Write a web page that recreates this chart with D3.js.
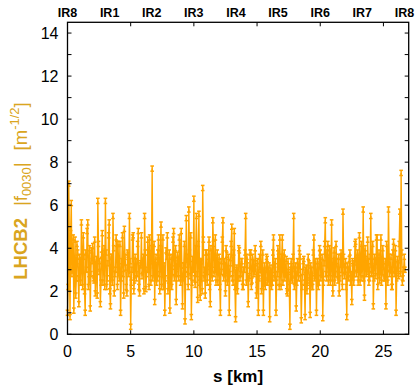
<!DOCTYPE html>
<html>
<head>
<meta charset="utf-8">
<script src="https://cdn.jsdelivr.net/npm/d3@7"></script>
<style>
  body { margin: 0; background: #fff; }
  svg { display: block; font-family: "Liberation Sans", Arial, sans-serif; }
  .tick-label { font-size: 16px; fill: #000; }
</style>
</head>
<body>
<div id="chart"></div>
<script>
// BPM positions are spaced evenly along the ring (km)
const sStep = 0.05;
// |f0030| amplitude at each BPM (one row per km)
const f0030 = [
  1.0, 2.2, 7.0, 3.8, 0.8, 4.7, 6.1, 2.8, 3.2, 4.5, 1.1, 3.0, 4.4, 1.8, 2.6, 4.2, 3.8, 2.6, 1.4, 3.6,
  3.4, 2.4, 5.2, 3.2, 2.2, 4.6, 3.6, 2.0, 1.0, 3.8, 3.0, 4.8, 5.2, 2.2, 2.8, 4.0, 1.2, 2.8, 3.9, 3.4,
  4.1, 2.6, 2.5, 4.4, 1.9, 3.0, 3.5, 1.8, 6.2, 4.2, 2.9, 3.4, 1.4, 2.4, 3.7, 4.7, 2.4, 3.2, 4.0, 2.2,
  6.2, 3.8, 2.2, 2.6, 3.3, 4.6, 5.2, 2.0, 1.3, 3.6, 3.6, 2.4, 5.5, 4.0, 1.9, 2.8, 3.0, 4.5, 4.2, 2.2,
  4.2, 3.0, 2.6, 4.2, 1.0, 2.6, 3.4, 4.6, 2.8, 1.8, 4.9, 3.6, 3.1, 2.2, 1.9, 3.8, 3.7, 2.8, 5.5, 3.4,
  0.35, 2.4, 3.0, 4.5, 4.6, 2.0, 2.5, 3.6, 3.4, 2.6, 2.8, 4.2, 4.8, 2.2, 1.9, 3.2, 3.3, 4.6, 2.7, 3.0,
  3.6, 2.0, 5.5, 3.8, 2.1, 2.8, 3.0, 4.4, 3.8, 2.2, 4.5, 3.4, 2.4, 4.0, 7.7, 2.6, 3.2, 4.2, 1.5, 3.2,
  3.6, 2.4, 2.6, 3.8, 4.5, 2.8, 2.0, 4.0, 5.1, 2.2, 3.0, 4.5, 2.2, 3.2, 1.0, 2.6, 3.9, 3.6, 4.6, 2.0,
  2.5, 3.8, 1.1, 3.0, 3.6, 2.2, 2.9, 4.4, 4.8, 2.6, 3.3, 4.0, 1.5, 2.8, 3.7, 3.4, 2.6, 4.5, 4.0, 2.4,
  4.8, 3.2, 1.3, 2.6, 3.2, 4.2, 0.6, 2.8, 5.4, 3.6, 3.0, 2.2, 5.8, 3.8, 2.7, 4.6, 0.8, 2.4, 3.5, 3.0,
  6.3, 2.6, 2.3, 4.0, 5.5, 2.8, 1.6, 4.2, 5.6, 2.4, 1.7, 3.4, 3.4, 2.0, 6.8, 4.4, 2.6, 3.0, 1.8, 3.8,
  3.8, 2.4, 2.9, 3.6, 4.4, 2.2, 1.4, 4.0, 3.1, 2.6, 5.3, 4.2, 2.8, 3.0, 4.5, 2.4, 3.2, 3.8, 2.4, 3.2,
  3.6, 2.2, 1.0, 3.4, 2.9, 4.4, 5.3, 2.6, 3.4, 3.2, 1.9, 4.0, 3.7, 2.4, 2.6, 3.6, 1.0, 2.8, 3.3, 4.2,
  5.0, 2.6, 2.4, 3.8, 4.8, 2.2, 0.7, 3.0, 3.1, 2.0, 2.6, 4.0, 3.9, 2.6, 2.8, 3.4, 3.4, 2.2, 2.2, 3.0,
  3.0, 3.8, 5.5, 2.4, 3.6, 3.2, 1.4, 2.6, 2.7, 3.8, 3.8, 2.2, 2.5, 3.6, 3.3, 2.8, 2.9, 4.0, 3.3, 1.8,
  2.3, 3.4, 1.0, 2.6, 3.6, 3.0, 4.2, 2.0, 2.7, 3.8, 1.0, 2.8, 3.2, 2.2, 2.5, 3.6, 3.5, 2.4, 2.8, 3.2,
  0.7, 2.8, 3.1, 2.2, 2.4, 3.8, 4.5, 2.6, 3.0, 3.4, 1.0, 2.4, 2.8, 4.0, 3.6, 2.2, 4.5, 3.0, 2.2, 3.6,
  4.5, 2.4, 3.0, 3.8, 2.6, 2.8, 3.5, 2.0, 1.9, 3.4, 2.9, 2.2, 0.35, 3.0, 3.4, 2.6, 2.5, 3.6, 5.5, 2.2,
  2.8, 3.2, 1.2, 2.4, 3.4, 3.0, 2.6, 4.0, 3.6, 2.6, 0.65, 2.2, 2.9, 3.4, 3.5, 2.4, 0.8, 3.0, 3.1, 2.0,
  2.5, 3.6, 3.3, 2.4, 0.9, 3.2, 3.0, 2.2, 2.2, 3.8, 4.5, 2.6, 2.7, 3.4, 1.0, 2.8, 3.4, 2.2, 2.4, 4.0,
  3.8, 2.6, 2.9, 3.6, 0.75, 2.4, 3.3, 4.2, 5.3, 2.8, 2.6, 3.8, 4.2, 2.4, 3.0, 4.0, 2.4, 3.2, 5.2, 2.6,
  1.9, 3.4, 3.9, 2.4, 2.8, 4.2, 3.4, 2.8, 2.5, 3.6, 1.9, 2.6, 3.6, 3.8, 3.0, 2.2, 5.7, 3.6, 2.7, 3.0,
  3.4, 2.2, 0.8, 3.2, 3.0, 2.6, 3.5, 3.8, 2.4, 2.8, 1.5, 3.4, 3.3, 2.4, 2.8, 4.2, 4.3, 2.8, 3.1, 3.8,
  2.4, 3.0, 4.6, 2.4, 3.2, 4.2, 2.6, 3.2, 5.8, 2.6, 1.7, 4.0, 3.5, 2.8, 2.9, 4.4, 3.4, 2.4, 2.6, 3.6,
  5.5, 2.8, 3.0, 4.2, 1.3, 2.6, 3.6, 3.4, 2.7, 4.5, 4.5, 2.2, 3.2, 3.8, 2.5, 3.0, 4.5, 2.4, 2.9, 4.0,
  3.4, 2.6, 2.6, 3.4, 1.3, 4.2, 3.1, 2.4, 5.8, 3.6, 2.8, 3.0, 3.6, 2.2, 2.2, 3.8, 4.3, 2.8, 3.0, 4.0,
  1.0, 2.6, 3.5, 3.2, 2.7, 4.2, 5.7, 2.8, 7.5, 3.8, 2.4, 2.6, 3.0, 3.6, 3.0
];
const errBar = 0.12;

const irLabels = ['IR8', 'IR1', 'IR2', 'IR3', 'IR4', 'IR5', 'IR6', 'IR7', 'IR8'];
const ringLength = 26.659;
const xTicks = [0, 5, 10, 15, 20, 25];
const yTicks = [0, 2, 4, 6, 8, 10, 12, 14];
const yMinor = d3.range(0, 15, 1);

const width = 416;
const height = 386;
const margin = { top: 22.3, right: 7.3, bottom: 51.7, left: 67.5 };
const lineColor = '#ffa500';
const labelColor = '#daa520';

const points = f0030.map((v, i) => ({ s: i * sStep, v }));

const svg = d3.select('#chart')
  .append('svg')
  .attr('width', width)
  .attr('height', height);

const x = d3.scaleLinear().domain([0, 27]).range([margin.left, width - margin.right]);
const y = d3.scaleLinear().domain([0, 14.5]).range([height - margin.bottom, margin.top]);

const plot = svg.append('g');

// connecting line
plot.append('path')
  .datum(points)
  .attr('fill', 'none')
  .attr('stroke', lineColor)
  .attr('stroke-width', 1.4)
  .attr('d', d3.line().x(d => x(d.s)).y(d => y(d.v)));

// error bars with caps
const bars = plot.selectAll('g.err').data(points).join('g').attr('class', 'err')
  .attr('stroke', lineColor).attr('stroke-width', 1.5);
bars.append('line')
  .attr('x1', d => x(d.s)).attr('x2', d => x(d.s))
  .attr('y1', d => y(d.v - errBar)).attr('y2', d => y(d.v + errBar));
[-errBar, errBar].forEach(off => {
  bars.append('line')
    .attr('x1', d => x(d.s) - 1.8).attr('x2', d => x(d.s) + 1.8)
    .attr('y1', d => y(d.v + off)).attr('y2', d => y(d.v + off));
});

// frame
const frame = svg.append('g');
frame.append('rect')
  .attr('x', x(0)).attr('y', y(14.5))
  .attr('width', x(27) - x(0)).attr('height', y(0) - y(14.5))
  .attr('fill', 'none').attr('stroke', '#000').attr('stroke-width', 1.3);

// x ticks (bottom and top, inward)
const tickLen = 4;
xTicks.forEach(t => {
  frame.append('line').attr('x1', x(t)).attr('x2', x(t))
    .attr('y1', y(0)).attr('y2', y(0) - tickLen).attr('stroke', '#000');
  frame.append('line').attr('x1', x(t)).attr('x2', x(t))
    .attr('y1', y(14.5)).attr('y2', y(14.5) + tickLen).attr('stroke', '#000');
  frame.append('text').attr('class', 'tick-label')
    .attr('x', x(t)).attr('y', y(0) + 23)
    .attr('text-anchor', 'middle').text(t);
});

// y ticks every 1 (left and right), labels every 2
yMinor.forEach(t => {
  frame.append('line').attr('x1', x(0)).attr('x2', x(0) + tickLen)
    .attr('y1', y(t)).attr('y2', y(t)).attr('stroke', '#000');
  frame.append('line').attr('x1', x(27)).attr('x2', x(27) - tickLen)
    .attr('y1', y(t)).attr('y2', y(t)).attr('stroke', '#000');
});
yTicks.forEach(t => {
  frame.append('text').attr('class', 'tick-label')
    .attr('x', x(0) - 9).attr('y', y(t) + 6)
    .attr('text-anchor', 'end').text(t);
});

// IR labels on top
irLabels.forEach((lab, i) => {
  svg.append('text')
    .attr('x', x(i * ringLength / 8)).attr('y', 17)
    .attr('text-anchor', 'middle')
    .attr('font-size', 12.5).attr('font-weight', 'bold')
    .text(lab);
});

// axis titles
svg.append('text')
  .attr('x', (x(0) + x(27)) / 2).attr('y', 382)
  .attr('text-anchor', 'middle')
  .attr('font-size', 17).attr('font-weight', 'bold')
  .text('s [km]');

const yTitle = svg.append('text')
  .attr('transform', 'translate(27, 191) rotate(-90)')
  .attr('text-anchor', 'middle')
  .attr('font-size', 18.5)
  .attr('fill', labelColor);
yTitle.append('tspan').attr('font-weight', 'bold').text('LHCB2');
yTitle.append('tspan').attr('dx', 12).text('|f');
yTitle.append('tspan').attr('font-size', 13).attr('dy', 4).text('0030');
yTitle.append('tspan').attr('dy', -4).text('|');
yTitle.append('tspan').attr('dx', 12).text('[m');
yTitle.append('tspan').attr('font-size', 13).attr('dy', -8).text('-1/2');
yTitle.append('tspan').attr('dy', 8).text(']');
</script>
</body>
</html>
